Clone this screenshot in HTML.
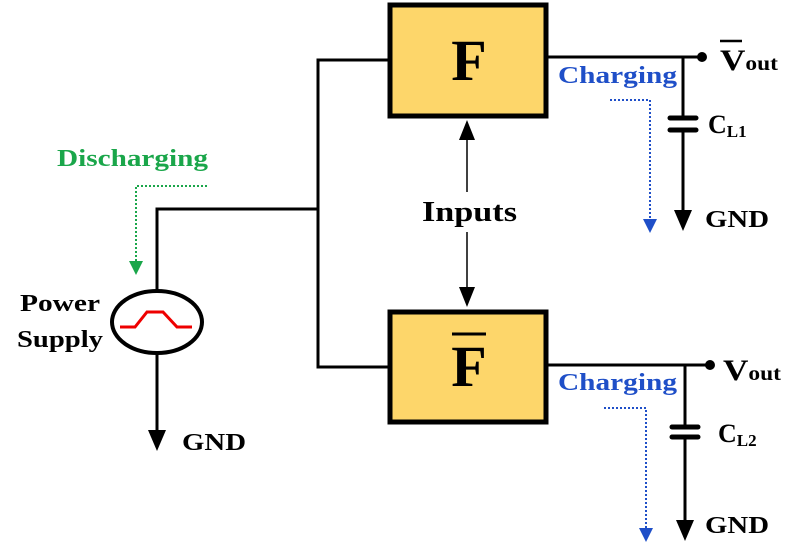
<!DOCTYPE html>
<html><head><meta charset="utf-8"><style>html,body{margin:0;padding:0;background:#fff}svg{display:block}</style></head>
<body>
<svg width="808" height="555" viewBox="0 0 808 555" xmlns="http://www.w3.org/2000/svg" font-family="Liberation Serif, serif" font-weight="bold">
<g stroke="#000" stroke-width="3" fill="none">
<polyline points="388,60 318,60 318,367 388,367"/>
<polyline points="318,209 157,209 157,291"/>
<line x1="157" y1="353" x2="157" y2="432"/>
<line x1="548" y1="57" x2="700" y2="57"/>
<line x1="683" y1="57" x2="683" y2="117"/>
<line x1="683" y1="131" x2="683" y2="212"/>
<line x1="548" y1="365" x2="708" y2="365"/>
<line x1="685" y1="365" x2="685" y2="426"/>
<line x1="685" y1="438" x2="685" y2="522"/>
</g>
<g stroke="#000" stroke-width="5" stroke-linecap="round">
<line x1="670" y1="118" x2="696" y2="118"/><line x1="670" y1="130" x2="696" y2="130"/>
<line x1="672" y1="427" x2="698" y2="427"/><line x1="672" y1="437" x2="698" y2="437"/>
</g>
<g fill="#000">
<polygon points="148,430 166,430 157,451"/>
<polygon points="674,210 692,210 683,231"/>
<polygon points="676,520 694,520 685,541"/>
<circle cx="702" cy="57" r="5"/><circle cx="710" cy="365" r="5"/>
<polygon points="459,140 475,140 467,120"/>
<polygon points="459,287 475,287 467,307"/>
</g>
<line x1="467" y1="138" x2="467" y2="192" stroke="#000" stroke-width="1.5"/>
<line x1="467" y1="232" x2="467" y2="290" stroke="#000" stroke-width="1.5"/>
<rect x="390" y="5" width="156" height="111" fill="#fdd66a" stroke="#000" stroke-width="5"/>
<rect x="390" y="312" width="156" height="110" fill="#fdd66a" stroke="#000" stroke-width="5"/>
<text x="469" y="80" font-size="58" text-anchor="middle">F</text>
<text x="469" y="386" font-size="58" text-anchor="middle">F</text>
<line x1="452" y1="334" x2="486" y2="334" stroke="#000" stroke-width="3"/>
<text x="422" y="221" font-size="28" textLength="95" lengthAdjust="spacingAndGlyphs">Inputs</text>
<ellipse cx="157" cy="322" rx="45" ry="31" fill="#fff" stroke="#000" stroke-width="4"/>
<polyline points="120,327 135,327 147,312 163,312 177,327 192,327" fill="none" stroke="#e00" stroke-width="3"/>
<text x="20" y="311" font-size="24" textLength="80" lengthAdjust="spacingAndGlyphs">Power</text>
<text x="17" y="347" font-size="24" textLength="86" lengthAdjust="spacingAndGlyphs">Supply</text>
<text x="182" y="450" font-size="24" textLength="64" lengthAdjust="spacingAndGlyphs">GND</text>
<text x="57" y="166" font-size="24" fill="#1aa64a" textLength="151" lengthAdjust="spacingAndGlyphs">Discharging</text>
<polyline points="207,186 136,186 136,262" fill="none" stroke="#1aa64a" stroke-width="2" stroke-dasharray="2,2"/>
<polygon points="129,261 143,261 136,275" fill="#1aa64a"/>
<g fill="#1f4fc8" font-size="24">
<text x="558" y="83" textLength="119" lengthAdjust="spacingAndGlyphs">Charging</text><text x="558" y="390" textLength="119" lengthAdjust="spacingAndGlyphs">Charging</text>
</g>
<g fill="none" stroke="#1f4fc8" stroke-width="2" stroke-dasharray="2,2">
<polyline points="610,100 650,100 650,220"/>
<polyline points="604,408 646,408 646,528"/>
</g>
<g fill="#1f4fc8">
<polygon points="643,219 657,219 650,233"/>
<polygon points="639,528 653,528 646,542"/>
</g>
<text x="720" y="70" font-size="30" textLength="58" lengthAdjust="spacingAndGlyphs">V<tspan font-size="20">out</tspan></text>
<line x1="720" y1="41" x2="742" y2="41" stroke="#000" stroke-width="2.5"/>
<text x="723" y="380" font-size="30" textLength="58" lengthAdjust="spacingAndGlyphs">V<tspan font-size="20">out</tspan></text>
<text x="708" y="133" font-size="26">C<tspan font-size="17" dy="4">L1</tspan></text>
<text x="718" y="442" font-size="26">C<tspan font-size="17" dy="4">L2</tspan></text>
<text x="705" y="227" font-size="24" textLength="64" lengthAdjust="spacingAndGlyphs">GND</text>
<text x="705" y="533" font-size="24" textLength="64" lengthAdjust="spacingAndGlyphs">GND</text>
</svg>
</body></html>
